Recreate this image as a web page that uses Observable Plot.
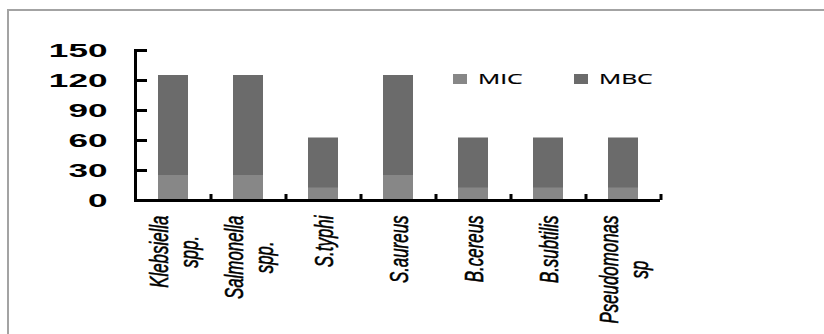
<!DOCTYPE html>
<html>
<head>
<meta charset="utf-8">
<script src="https://cdn.jsdelivr.net/npm/d3@7"></script>
<script src="https://cdn.jsdelivr.net/npm/@observablehq/plot@0.6"></script>
<style>
  body { margin: 0; background: #fff; }
  #chart { position: relative; width: 824px; height: 334px; overflow: hidden; font-family: "Liberation Sans", Arial, sans-serif; }
  #chart svg { position: absolute; left: 0; top: 0; }
  #border { position: absolute; left: 7px; top: 9px; right: -4px; bottom: -4px; border-top: 2px solid #a3a3a3; border-left: 2px solid #a3a3a3; }
  .legend { position: absolute; left: 453px; top: 74px; }
  .legend-item { position: absolute; top: 0; display: flex; align-items: flex-start; white-space: nowrap; }
  .legend-swatch { width: 14px; height: 10px; margin-right: 11px; }
  .legend-text { font-family: "Open Sans", sans-serif; font-size: 14.5px; line-height: 10px; color: #000; transform: scaleX(1.7); transform-origin: left center; -webkit-text-stroke: 0.2px #000; }
</style>
</head>
<body>
<div id="chart"><div id="border"></div></div>
<script>
// Test organisms, their axis labels and the MIC / MBC readings
const strains = ["Klebsiella spp.", "Salmonella spp.", "S.typhi", "S.aureus", "B.cereus", "B.subtilis", "Pseudomonas sp"];
const strainLabels = ["Klebsiella\nspp.", "Salmonella\nspp.", "S.typhi", "S.aureus", "B.cereus", "B.subtilis", "Pseudomonas\nsp"];
const micValues = [25, 25, 12.5, 25, 12.5, 12.5, 12.5];
const mbcValues = [125, 125, 62.5, 125, 62.5, 62.5, 62.5];
const seriesNames = ["MIC", "MBC"];
const seriesColors = ["#878787", "#6b6b6b"];
const yTicks = [0, 30, 60, 90, 120, 150];

const rows = strains.map((s, i) => ({strain: s, MIC: micValues[i], MBC: mbcValues[i]}));
const labelOf = new Map(strains.map((s, i) => [s, strainLabels[i]]));

const W = 824, H = 334, mL = 135, mR = 164, mT = 50, mB = 134;
const step = (W - mL - mR) / strains.length;
const yTickLen = 12;
const xTickLen = 6;

const plot = Plot.plot({
  width: W,
  height: H,
  marginLeft: mL,
  marginRight: mR,
  marginTop: mT,
  marginBottom: mB,
  style: {background: "transparent", color: "#000", fontFamily: "'Liberation Sans', Arial, sans-serif", overflow: "visible"},
  x: {domain: strains, paddingInner: 0.6, paddingOuter: 0.3},
  y: {domain: [0, 150]},
  marks: [
    // MBC bar behind, MIC bar in front
    Plot.barY(rows, {x: "strain", y1: 0, y2: "MBC", fill: seriesColors[1]}),
    Plot.barY(rows, {x: "strain", y1: 0, y2: "MIC", fill: seriesColors[0]}),
    // axis lines
    Plot.frame({anchor: "left", stroke: "#000", strokeWidth: 3}),
    Plot.ruleY([0], {stroke: "#000", strokeWidth: 3}),
    // short upward ticks at the category boundaries
    Plot.axisX({tickSize: xTickLen, dy: -xTickLen, dx: step / 2, strokeWidth: 3, tickFormat: () => "", label: null}),
    // inward y ticks, then the labels
    Plot.axisY({ticks: yTicks, tickSize: yTickLen, dx: yTickLen, strokeWidth: 3, tickFormat: () => "", label: null}),
    Plot.axisY({ticks: yTicks, tickSize: 0, tickPadding: 28, fontSize: 19, fontWeight: "bold", label: null}),
    Plot.axisX({tickSize: 0, tickPadding: 15, tickRotate: -90, tickFormat: (d) => labelOf.get(d), fontSize: 26, fontStyle: "italic", lineHeight: 1.15, label: null})
  ]
});

const chart = document.getElementById("chart");
chart.append(plot);

// move a numeric x attribute into the transform so later scaling keeps the anchor
function normaliseAnchor(t) {
  const x = t.getAttribute("x");
  let tr = t.getAttribute("transform") || "";
  if (x !== null && !/em/.test(x) && !isNaN(+x) && +x !== 0) {
    t.removeAttribute("x");
    tr = `translate(${+x},0) ` + tr;
  }
  return tr;
}

// wide bold y tick labels
plot.querySelectorAll('g[aria-label="y-axis tick label"] text').forEach((t) => {
  if (!t.textContent) return;
  t.setAttribute("transform", normaliseAnchor(t) + " scale(1.85,1)");
});

// rotated organism names: lines centred on each other, block hanging from the axis
plot.querySelectorAll('g[aria-label="x-axis tick label"] text').forEach((t) => {
  if (!t.textContent) return;
  const spans = [...t.querySelectorAll("tspan")];
  const L = spans.length ? Math.max(...spans.map((s) => s.getComputedTextLength())) : t.getComputedTextLength();
  t.setAttribute("text-anchor", "middle");
  t.setAttribute("stroke", "#000");
  t.setAttribute("stroke-width", "0.6");
  t.setAttribute("transform", normaliseAnchor(t) + ` scale(0.65,1) translate(${-L / 2},0)`);
});

// legend
const legend = document.createElement("div");
legend.className = "legend";
seriesNames.forEach((name, i) => {
  const item = document.createElement("div");
  item.className = "legend-item";
  item.style.left = `${i * 121}px`;
  const sw = document.createElement("div");
  sw.className = "legend-swatch";
  sw.style.background = seriesColors[i];
  const tx = document.createElement("span");
  tx.className = "legend-text";
  tx.textContent = name;
  item.append(sw, tx);
  legend.append(item);
});
chart.append(legend);
</script>
</body>
</html>
